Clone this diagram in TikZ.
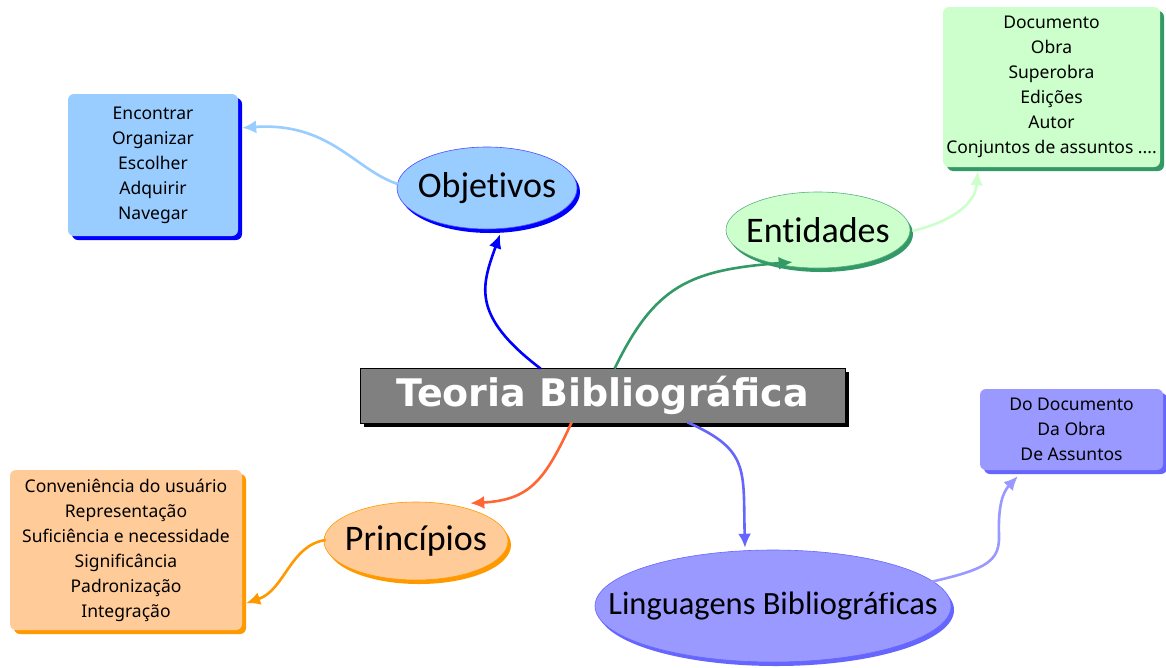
\documentclass[tikz,border=0pt]{standalone}
\usepackage{fontspec}
\setmainfont{Carlito}[Ligatures={NoCommon}]
\newfontfamily\boxfont{Noto Sans}
\newfontfamily\titlefont{DejaVu Sans}
\usetikzlibrary{shapes.geometric,arrows.meta,calc}
\definecolor{objfill}{HTML}{99CCFF}
\definecolor{objsh}{HTML}{0000FF}
\definecolor{entfill}{HTML}{CCFFCC}
\definecolor{entsh}{HTML}{339966}
\definecolor{prifill}{HTML}{FFCC99}
\definecolor{prish}{HTML}{FF9900}
\definecolor{prired}{HTML}{FF6633}
\definecolor{lingfill}{HTML}{9999FF}
\definecolor{lingsh}{HTML}{6666FF}
\definecolor{titlefill}{HTML}{808080}
\tikzset{
  ell/.style={ellipse, inner sep=0pt},
  elltext/.style={inner sep=0pt, font=\fontsize{36}{40}\selectfont},
  listbox/.style={rectangle, rounded corners=6pt, inner sep=0pt, align=center,
     font=\boxfont\fontsize{17.5}{25}\selectfont},
  conn/.style={line width=2.6pt, -{Latex[length=14pt,width=13pt]}},
}
\begin{document}
\begin{tikzpicture}[x=1pt,y=-1pt]
\useasboundingbox (0,0) rectangle (1166,667);
\fill[white] (0,0) rectangle (1166,667);

% ---------- Objetivos ----------
\node[listbox, fill=objsh, minimum width=170pt, minimum height=142pt] (objboxS) at (157,169) {};
\node[listbox, fill=objfill, minimum width=170pt, minimum height=142pt] (objbox) at (153,165)
  {Encontrar\\Organizar\\Escolher\\Adquirir\\Navegar};
\node[ell, fill=objsh, minimum width=180pt, minimum height=82pt] (objS) at (490,192) {};
\node[ell, fill=objfill, draw=objsh!70, line width=0.6pt, minimum width=180pt, minimum height=82pt] (obj) at (487,188) {};
\node[elltext] (objT) at (obj) {Objetivos};

% ---------- Entidades ----------
\node[listbox, fill=entsh, minimum width=217pt, minimum height=160pt] (entboxS) at (1055.5,91) {};
\node[listbox, fill=entfill, minimum width=217pt, minimum height=160pt] (entbox) at (1051.5,87)
  {Documento\\Obra\\Superobra\\Edições\\Autor\\Conjuntos de assuntos ....};
\node[ell, fill=entsh, minimum width=184pt, minimum height=76pt] (entS) at (821,234) {};
\node[ell, fill=entfill, draw=entsh!80, line width=0.6pt, minimum width=184pt, minimum height=76pt] (ent) at (818,230) {};
\node[elltext] (entT) at (ent) {Entidades};

% ---------- Principios ----------
\node[listbox, fill=prish, minimum width=232pt, minimum height=160pt] (priboxS) at (130,554) {};
\node[listbox, fill=prifill, minimum width=232pt, minimum height=160pt] (pribox) at (126,550)
  {Conveniência do usuário\\Representação\\Suficiência e necessidade\\Significância\\Padronização\\Integração};
\node[ell, fill=prish, minimum width=184pt, minimum height=78pt] (priS) at (419,545) {};
\node[ell, fill=prifill, draw=prish, line width=0.6pt, minimum width=184pt, minimum height=78pt] (pri) at (416,541) {};
\node[elltext] (priT) at (pri) {Princípios};

% ---------- Linguagens ----------
\node[listbox, fill=lingsh, minimum width=183pt, minimum height=81pt] (lingboxS) at (1075.5,433.5) {};
\node[listbox, fill=lingfill, minimum width=183pt, minimum height=81pt] (lingbox) at (1071.5,429.5)
  {Do Documento\\Da Obra\\De Assuntos};
\node[ell, fill=lingsh, minimum width=356pt, minimum height=112pt] (lingS) at (776,610) {};
\node[ell, fill=lingfill, draw=lingsh, line width=0.6pt, minimum width=356pt, minimum height=112pt] (ling) at (773,606) {};
\node[elltext, font=\fontsize{32.5}{36}\selectfont] (lingT) at (ling) {Linguagens Bibliográficas};

% ---------- Title ----------
\node[rectangle, fill=black, minimum width=485pt, minimum height=55pt, inner sep=0pt] (titleS) at (606.5,399.5) {};
\node[rectangle, fill=titlefill, draw=black, line width=0.8pt, minimum width=485pt, minimum height=55pt,
  inner sep=0pt, text=white, font=\titlefont\bfseries\fontsize{38}{40}\selectfont] (title) at (602.5,395.5)
  {Teoria Bibliográfica};

% ---------- Connectors ----------
\draw[conn, draw=objsh] ($(title.north west)+(181,1)$)
  .. controls (470,315) and (482,285) .. ($(obj.south)+(13,5)$);
\draw[conn, draw=objfill] ($(obj.west)+(1,-4)$)
  .. controls (355,170) and (330,122) .. ($(objbox.north east)+(4,34)$);

\draw[conn, draw=entsh] ($(title.north west)+(255,1)$)
  .. controls (655,285) and (690,270) .. ($(ent.south west)+(40,5)$);
\draw[conn, draw=entfill] ($(ent.east)+(2,1)$)
  .. controls (950,222) and (975,205) .. ($(entbox.south west)+(35,4)$);

\draw[conn, draw=prired] ($(title.south west)+(212,-1)$)
  .. controls (545,480) and (530,500) .. ($(pri.north east)+(-11,-10)$);
\draw[conn, draw=prish] ($(pri.west)+(2,-1)$)
  .. controls (290,545) and (285,590) .. ($(pribox.south east)+(4,-27)$);

\draw[conn, draw=lingsh] ($(title.south west)+(328,-1)$)
  .. controls (750,450) and (743,470) .. ($(ling.north)+(-28,-2)$);
\draw[conn, draw=lingfill] ($(ling.north east)+(-26,28)$)
  .. controls (980,572) and (1000,568) .. (999,535)
  .. controls (998,505) and (1003,492) .. ($(lingbox.south west)+(38,6)$);
\end{tikzpicture}
\end{document}
